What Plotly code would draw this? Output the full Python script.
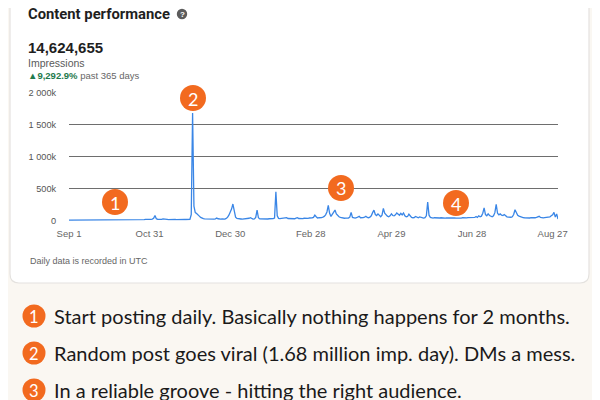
import pandas as pd
import plotly.graph_objects as go

# ---- data (daily impressions, thousands) ----
start_date = "2022-09-01"
sep = [1,1,2,1,2,2,1,2,3,2, 2,3,2,3,2,4,3,2,3,3, 4,3,4,5,3,4,3,5,4,4]
oct_ = [5,4,6,5,7,5,6,8,6,7, 6,8,7,9,6,8,10,7,9,8, 10,9,11,8,12,10,9,13,11,12,14]
nov = [15,18,30,75,25,14,12,15,13,22, 16,12,14,11,13,12,15,14,12,11, 13,12,10,12,11,13,12,14,11,15]
dec = [90,1680,220,120,105,90,65,45,32,25, 22,20,18,21,19,17,20,18,22,35, 24,18,17,20,19,18,30,45,80,125,175]
jan = [255,120,50,28,22,18,20,17,19,21, 18,20,32,40,25,19,22,45,160,40, 22,20,18,21,19,22,20,24,21,23,25]
feb = [35,445,70,30,25,28,24,27,30,42, 28,25,27,30,26,24,35,42,28,25, 30,27,32,29,34,30,36,33]
mar = [40,45,80,55,35,40,38,42,50,60, 85,130,235,110,60,95,120,160,100,75, 55,45,38,35,32,35,30,34,50,125,45]
apr = [38,35,40,45,62,40,36,42,48,62, 45,40,50,70,120,160,90,75,100,70, 55,80,185,110,80,65,55,70,100,75]
may = [70,85,115,90,80,110,85,115,70,55, 60,95,60,45,40,42,60,45,40,52, 45,38,35,40,70,285,80,45,38,35,40]
jun = [38,35,32,36,40,34,30,33,36,38, 32,30,35,40,38,33,31,35,37,34, 40,36,33,38,42,45,40,48,52,45]
jul = [60,45,70,55,65,110,195,90,70,100, 75,60,55,70,120,250,110,85,100,80, 75,90,70,55,50,45,48,55,90,165,110]
aug = [80,65,55,48,42,40,38,45,40,36, 42,38,35,40,45,55,62,45,40,38, 42,45,50,48,55,70,85,125,50,100,20]

x_tick_dates = ["2022-09-01", "2022-10-31", "2022-12-30", "2023-02-28", "2023-04-29", "2023-06-28", "2023-08-27"]
x_tick_labels = ["Sep 1", "Oct 31", "Dec 30", "Feb 28", "Apr 29", "Jun 28", "Aug 27"]
y_tick_vals = [0, 500, 1000, 1500, 2000]
y_tick_labels = ["0", "500k", "1 000k", "1 500k", "2 000k"]

title_text = "Content performance"
total_text = "14,624,655"
metric_text = "Impressions"
change_text = "▲9,292.9%"
period_text = "past 365 days"
footnote_text = "Daily data is recorded in UTC"
notes = [
    "Start posting daily. Basically nothing happens for 2 months.",
    "Random post goes viral (1.68 million imp. day). DMs a mess.",
    "In a reliable groove - hitting the right audience.",
]

values = sep + oct_ + nov + dec + jan + feb + mar + apr + may + jun + jul + aug
dates = pd.date_range(start_date, periods=len(values), freq="D")

W, H = 600, 400
OX, OY = 8, 8   # page offset of the figure inside the browser window
def px(x):
    return (x - OX) / W
def py(y):
    return 1 - (y - OY) / H

BG = "#faf7f2"
ORANGE = "#f26a1f"
FONT_UI = "Liberation Sans"
FONT_TITLE = "Roboto"
FONT_NOTE = "Lato"

fig = go.Figure()
fig.add_trace(go.Scatter(x=dates, y=values, mode="lines",
                         line=dict(color="#3a86e6", width=1.3),
                         hoverinfo="skip", showlegend=False))

shapes = []
# card with rounded corners
cx0, cx1, cy0, cy1, r = 10, 589, -20, 283, 9
path = (f"M {px(cx0)},{py(cy0)} L {px(cx1)},{py(cy0)} "
        f"L {px(cx1)},{py(cy1 - r)} Q {px(cx1)},{py(cy1)} {px(cx1 - r)},{py(cy1)} "
        f"L {px(cx0 + r)},{py(cy1)} Q {px(cx0)},{py(cy1)} {px(cx0)},{py(cy1 - r)} Z")
shapes.append(dict(type="path", path=path, xref="paper", yref="paper",
                   fillcolor="white", line=dict(color="#e4e2df", width=1.2), layer="below"))

def circle(cx, cy, rad, color):
    return dict(type="circle", xref="paper", yref="paper",
                x0=px(cx - rad), x1=px(cx + rad), y0=py(cy + rad), y1=py(cy - rad),
                fillcolor=color, line=dict(width=0), layer="above")

# help icon
shapes.append(circle(182, 14, 5.2, "#5c5c5c"))

chart_markers = [(115, 202, "1"), (193, 98, "2"), (341, 188, "3"), (456, 203, "4")]
for cx, cy, _ in chart_markers:
    shapes.append(circle(cx, cy, 13, ORANGE))

note_y = [316, 353, 390]
for y in note_y:
    shapes.append(circle(34, y, 11.5, ORANGE))

annotations = []
def text(x, y, s, size, color, family=FONT_UI, xanchor="left", bold=False):
    annotations.append(dict(x=px(x), y=py(y), xref="paper", yref="paper",
                            text=(f"<b>{s}</b>" if bold else s), showarrow=False,
                            xanchor=xanchor, yanchor="middle",
                            font=dict(size=size, color=color, family=family)))

text(26, 14.5, title_text, 14.8, "#1f1f1f", family=FONT_TITLE, bold=True)
text(182, 14.5, "?", 8, "white", xanchor="center", bold=True)
text(26, 47, total_text, 15, "#1f1f1f", bold=True)
text(26, 63, metric_text, 10.5, "#5a5a5a")
annotations.append(dict(x=px(26), y=py(75.5), xref="paper", yref="paper",
                        text=f"<span style='color:#1f7a4d'><b>{change_text}</b></span> {period_text}",
                        showarrow=False, xanchor="left", yanchor="middle",
                        font=dict(size=9.5, color="#666666", family=FONT_UI)))
text(28, 261, footnote_text, 9, "#666666")

for cx, cy, label in chart_markers:
    text(cx, cy + 0.5, label, 18, "white", family=FONT_NOTE, xanchor="center")
for y, (i, note) in zip(note_y, enumerate(notes)):
    text(34, y + 0.5, str(i + 1), 16.5, "white", family=FONT_NOTE, xanchor="center")
    text(52, y, note, 20, "#1a1a1a", family=FONT_NOTE)

fig.update_layout(
    width=W, height=H, margin=dict(l=0, r=0, t=0, b=0, pad=0), autosize=False,
    paper_bgcolor=BG, plot_bgcolor="white",
    shapes=shapes, annotations=annotations,
    xaxis=dict(domain=[px(69), px(558)], range=[dates[0], dates[-1]],
               tickvals=x_tick_dates, ticktext=x_tick_labels, automargin=False,
               showgrid=False, zeroline=False, showline=False,
               ticks="outside", ticklen=4, tickcolor="rgba(0,0,0,0)",
               tickfont=dict(size=9.5, color="#666666", family=FONT_UI)),
    yaxis=dict(domain=[py(220.8), py(92.7)], range=[-8, 2000],
               tickvals=y_tick_vals, ticktext=y_tick_labels, automargin=False,
               showgrid=True, gridcolor="#6e6e6e", gridwidth=1,
               zeroline=False, showline=False,
               ticks="outside", ticklen=10, tickcolor="rgba(0,0,0,0)",
               tickfont=dict(size=9.2, color="#555555", family=FONT_UI)),
)

fig.write_html("out.html")
